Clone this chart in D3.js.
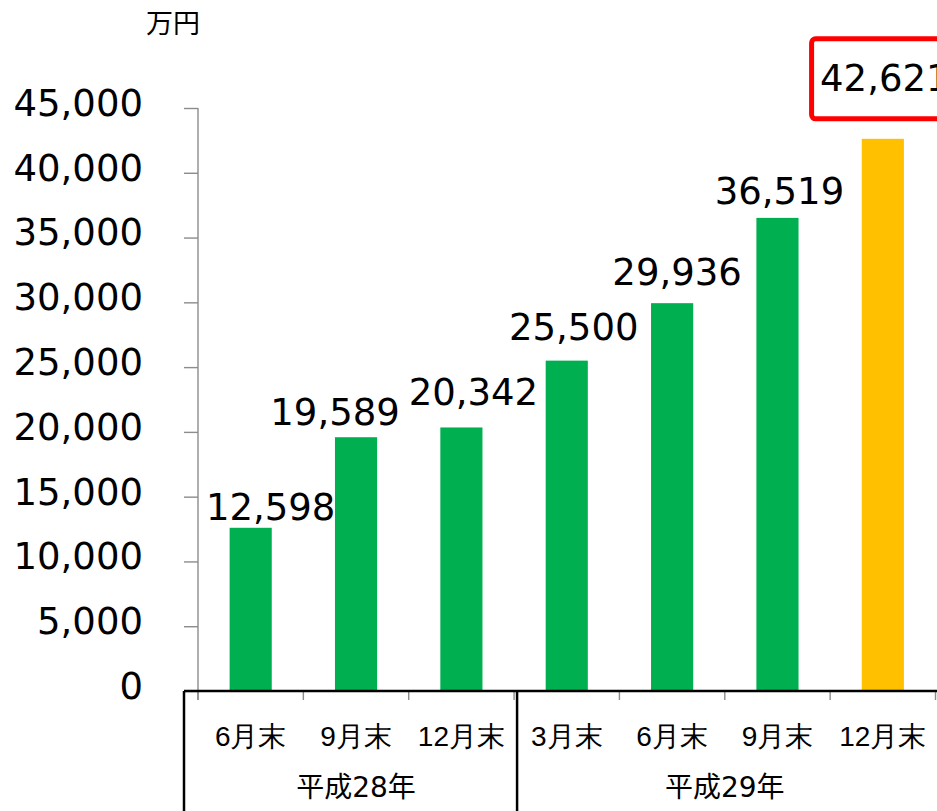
<!DOCTYPE html>
<html>
<head>
<meta charset="utf-8">
<script src="https://cdn.jsdelivr.net/npm/d3@7"></script>
<style>
  body { margin: 0; background: #fff; }
  svg { display: block; font-family: "DejaVu Sans", "Noto Sans CJK JP", sans-serif; }
</style>
</head>
<body>
<div id="chart"></div>
<script>
// data
var periods = ["6月末", "9月末", "12月末", "3月末", "6月末", "9月末", "12月末"];
var values = [12598, 19589, 20342, 25500, 29936, 36519, 42621];
var groupNames = ["平成28年", "平成29年"];
var groupSizes = [3, 4];
var yTicks = [0, 5000, 10000, 15000, 20000, 25000, 30000, 35000, 40000, 45000];
var unitLabel = "万円";

// hand-placed label nudges in the original (px)
var labelDx = [20, -21, 12, 7, 5, 2, 2];
var labelGap = [8, 12, 22, 21, 18, 14, 48];

var svgWidth = 937, svgHeight = 811;
var plotLeft = 198, plotRight = 935.5, plotTop = 108, plotBottom = 691;

var svg = d3.select("#chart").append("svg")
    .attr("width", svgWidth)
    .attr("height", svgHeight);

var idx = d3.range(values.length);

var x = d3.scaleBand()
    .domain(idx)
    .range([plotLeft, plotRight])
    .padding(0);

var y = d3.scaleLinear()
    .domain([0, 45000])
    .range([plotBottom, plotTop]);

// y axis
var yAxis = svg.append("g")
    .attr("transform", "translate(" + plotLeft + ",0)")
    .call(d3.axisLeft(y).tickValues(yTicks).tickSize(14).tickPadding(41)
        .tickFormat(d3.format(",")));
yAxis.select(".domain").remove();
yAxis.selectAll(".tick line").attr("stroke", "#8c8c8c").attr("stroke-width", 1.4);
yAxis.selectAll(".tick text")
    .attr("font-size", 37)
    .attr("fill", "#000")
    .attr("dy", "0.2em")
    .style("font-family", "DejaVu Sans, sans-serif");

svg.append("line")
    .attr("x1", plotLeft).attr("x2", plotLeft)
    .attr("y1", y(45000)).attr("y2", y(0) + 9)
    .attr("stroke", "#8c8c8c").attr("stroke-width", 1.4);

// unit
svg.append("text")
    .attr("x", 173)
    .attr("y", 33)
    .attr("text-anchor", "middle")
    .attr("font-size", 27)
    .text(unitLabel);

// bars
svg.selectAll(".bar")
    .data(values)
    .enter()
    .append("rect")
    .attr("class", "bar")
    .attr("x", function(d, i) { return x(i) + x.bandwidth() * 0.3; })
    .attr("width", x.bandwidth() * 0.4)
    .attr("y", function(d) { return y(d); })
    .attr("height", function(d) { return y(0) - y(d); })
    .attr("fill", function(d, i) { return i === values.length - 1 ? "#FFC000" : "#00B050"; });

// value labels
var labels = svg.selectAll(".val")
    .data(values)
    .enter()
    .append("text")
    .attr("class", "val")
    .attr("text-anchor", "middle")
    .attr("font-size", 37)
    .attr("x", function(d, i) { return x(i) + x.bandwidth() / 2 + labelDx[i]; })
    .attr("y", function(d, i) { return y(d) - labelGap[i]; })
    .text(function(d) { return d3.format(",")(d); });

// red box round the latest value
var lastBox = labels.filter(function(d, i) { return i === values.length - 1; }).node().getBBox();
svg.append("rect")
    .attr("x", lastBox.x - 8.5)
    .attr("y", y(values[values.length - 1]) - labelGap[values.length - 1] - 52)
    .attr("width", 160)
    .attr("height", 80)
    .attr("rx", 4)
    .attr("fill", "none")
    .attr("stroke", "#FF0000")
    .attr("stroke-width", 5);

// category ticks at band edges
svg.selectAll(".ctick")
    .data(d3.range(values.length + 1))
    .enter()
    .append("line")
    .attr("class", "ctick")
    .attr("x1", function(i) { return plotLeft + i * x.step(); })
    .attr("x2", function(i) { return plotLeft + i * x.step(); })
    .attr("y1", plotBottom)
    .attr("y2", plotBottom + 9)
    .attr("stroke", "#8c8c8c")
    .attr("stroke-width", 1.4);

// category labels
var xAxis = svg.append("g")
    .attr("transform", "translate(0," + plotBottom + ")")
    .call(d3.axisBottom(x).tickSize(0).tickPadding(35)
        .tickFormat(function(i) { return periods[i]; }));
xAxis.select(".domain").remove();
xAxis.selectAll(".tick text").attr("font-size", 28).attr("fill", "#000");

// group frame and labels
var start = 0;
var groupEdges = [plotLeft - 14];
groupNames.forEach(function(name, g) {
    var first = start, last = start + groupSizes[g] - 1;
    var cx = (x(first) + x(last) + x.bandwidth()) / 2;
    svg.append("text")
        .attr("x", cx)
        .attr("y", 797)
        .attr("text-anchor", "middle")
        .attr("font-size", 28)
        .text(name);
    groupEdges.push(x(last) + x.bandwidth() + 3);
    start += groupSizes[g];
});

svg.selectAll(".gedge")
    .data(groupEdges)
    .enter()
    .append("line")
    .attr("class", "gedge")
    .attr("x1", function(d) { return d; })
    .attr("x2", function(d) { return d; })
    .attr("y1", plotBottom)
    .attr("y2", svgHeight + 5)
    .attr("stroke", "#000")
    .attr("stroke-width", 2.5);

svg.append("line")
    .attr("x1", plotLeft - 14)
    .attr("x2", svgWidth + 5)
    .attr("y1", plotBottom)
    .attr("y2", plotBottom)
    .attr("stroke", "#000")
    .attr("stroke-width", 2.5);
</script>
</body>
</html>
